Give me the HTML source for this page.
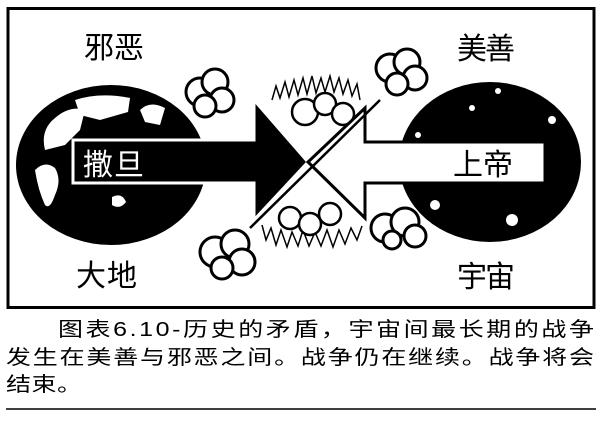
<!DOCTYPE html>
<html><head><meta charset="utf-8"><style>
html,body{margin:0;padding:0;background:#fff;}
svg{display:block;}
text{font-family:"Liberation Sans","Noto Sans CJK SC",sans-serif;}
</style></head><body>
<svg width="600" height="421" viewBox="0 0 600 421" xmlns="http://www.w3.org/2000/svg">
<rect x="8" y="8.5" width="586" height="299" fill="#fff" stroke="#000" stroke-width="3"/>
<!-- spiky fringe -->
<g stroke="#000" stroke-width="1.5" fill="none">
<path d="M272 100 L276 86 L280 98 L285 82 L289 97 L294 80 L298 95 L303 78 L307 94 L312 76 L316 93 L321 78 L325 92 L330 76 L334 92 L339 78 L343 94 L348 80 L352 96 L357 84 L360 100"/>
<path d="M262 225 L266 240 L271 228 L276 245 L281 230 L287 247 L292 232 L298 246 L303 230 L309 246 L315 232 L321 246 L327 230 L333 247 L339 230 L345 244 L351 228 L357 240 L362 226"/>
</g>
<!-- puffs in middle -->
<g fill="#fff" stroke="#000" stroke-width="2.5">
<circle cx="305" cy="112" r="13"/><circle cx="325" cy="104" r="11"/><circle cx="343" cy="114" r="11"/>
<circle cx="290" cy="218" r="11"/><circle cx="310" cy="224" r="11"/><circle cx="330" cy="214" r="11"/>
</g>
<!-- globes -->
<ellipse cx="111" cy="165" rx="95" ry="80" fill="#000"/>
<ellipse cx="490" cy="162" rx="91" ry="80" fill="#000"/>
<!-- continents -->
<g fill="#fff">
<path d="M45 150 Q40 130 55 118 Q70 105 85 110 L80 130 L65 145 Z"/>
<path d="M35 170 Q45 160 55 168 Q62 180 55 195 Q50 210 45 205 Q38 190 35 170 Z"/>
<path d="M75 100 Q100 92 130 98 L128 112 L100 120 L80 115 Z"/>
<path d="M140 110 Q150 100 165 108 L160 125 L145 122 Z"/>
<path d="M112 197 Q122 192 126 202 Q120 210 112 205 Z"/>
<circle cx="498" cy="91" r="3"/><circle cx="472" cy="108" r="3"/><circle cx="552" cy="120" r="4"/>
<circle cx="512" cy="220" r="6"/><circle cx="418" cy="135" r="3"/><circle cx="435" cy="205" r="5"/>
</g>
<!-- clouds -->
<g fill="#fff" stroke="#000" stroke-width="3">
<circle cx="200" cy="92" r="14"/><circle cx="215" cy="82" r="13"/><circle cx="222" cy="100" r="12"/><circle cx="205" cy="106" r="11"/>
<circle cx="390" cy="68" r="14"/><circle cx="407" cy="62" r="13"/><circle cx="415" cy="78" r="12"/><circle cx="397" cy="84" r="11"/>
<circle cx="215" cy="252" r="15"/><circle cx="235" cy="244" r="14"/><circle cx="242" cy="262" r="13"/><circle cx="222" cy="268" r="11"/>
<circle cx="385" cy="228" r="14"/><circle cx="405" cy="222" r="14"/><circle cx="415" cy="236" r="11"/><circle cx="392" cy="240" r="9"/>
</g>
<!-- left arrow (black, white outline) -->
<path d="M73 140 L254 140 L254 100 L308 162 L254 220 L254 183 L73 183 Z" fill="#000" stroke="#fff" stroke-width="3"/>
<!-- right arrow (white, black outline) -->
<path d="M545 142 L365 142 L365 108 L308 162 L365 218 L365 183 L545 183 Z" fill="#fff" stroke="#000" stroke-width="3"/>
<line x1="250" y1="228" x2="380" y2="100" stroke="#000" stroke-width="2.5"/>
<!-- labels -->
<g font-size="30">
<text x="84" y="58" textLength="60">邪恶</text>
<text x="457" y="59" textLength="58">美善</text>
<text x="76" y="286" textLength="61">大地</text>
<text x="457" y="287" textLength="58">宇宙</text>
<text x="83" y="175" textLength="61" fill="#fff">撒旦</text>
<text x="453" y="175" textLength="60">上帝</text>
</g>
<!-- caption -->
<g font-size="25">
<text transform="translate(58,336) scale(1,0.8)" textLength="536" lengthAdjust="spacing">图表6.10-历史的矛盾，宇宙间最长期的战争</text>
<text transform="translate(6,364) scale(1,0.8)" textLength="588" lengthAdjust="spacing">发生在美善与邪恶之间。战争仍在继续。战争将会</text>
<text transform="translate(6,391) scale(1,0.8)" textLength="76" lengthAdjust="spacing">结束。</text>
</g>
<line x1="6" y1="409" x2="596" y2="409" stroke="#000" stroke-width="1.5"/>
</svg>
</body></html>
